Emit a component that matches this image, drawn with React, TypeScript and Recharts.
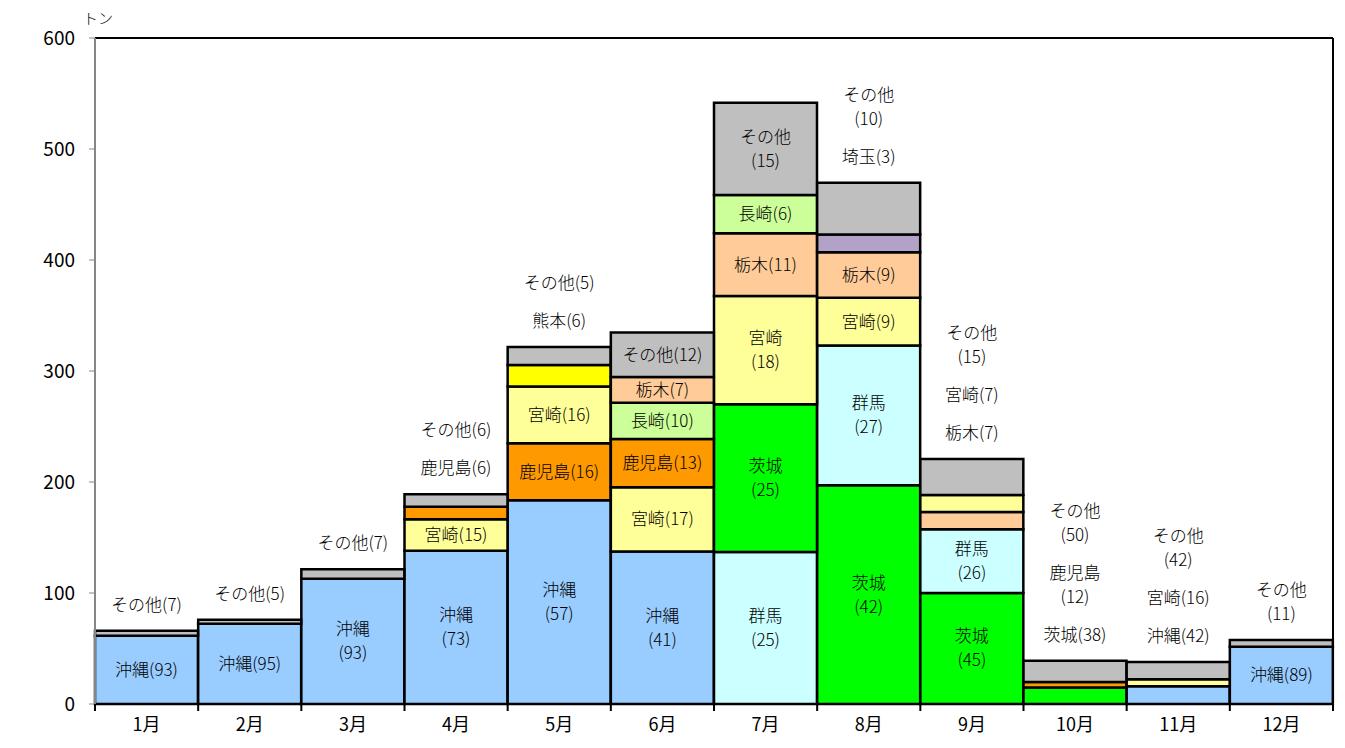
import { Bar, BarChart, Cell, LabelList, XAxis, YAxis } from "recharts";

const months = ["1月", "2月", "3月", "4月", "5月", "6月", "7月", "8月", "9月", "10月", "11月", "12月"];
const yTicks = [0, 100, 200, 300, 400, 500, 600];

// stack layers, bottom to top (その他 always on top)
const layer1Names = ["沖縄", "沖縄", "沖縄", "沖縄", "沖縄", "沖縄", "群馬", "茨城", "茨城", "茨城", "沖縄", "沖縄"];
const layer1Values = [61.4, 72.2, 112.8, 138, 183.5, 137.3, 137, 197, 100, 14.8, 15.9, 51.5];
const layer1Labels = ["沖縄(93)", "沖縄(95)", "沖縄\n(93)", "沖縄\n(73)", "沖縄\n(57)", "沖縄\n(41)", "群馬\n(25)", "茨城\n(42)", "茨城\n(45)", "", "", "沖縄(89)"];

const layer2Names = ["", "", "", "宮崎", "鹿児島", "宮崎", "茨城", "群馬", "群馬", "鹿児島", "宮崎", ""];
const layer2Values = [0, 0, 0, 28.4, 51.5, 58, 133, 126, 57.4, 5, 6.5, 0];
const layer2Labels = ["", "", "", "宮崎(15)", "鹿児島(16)", "宮崎(17)", "茨城\n(25)", "群馬\n(27)", "群馬\n(26)", "", "", ""];

const layer3Names = ["", "", "", "鹿児島", "宮崎", "鹿児島", "宮崎", "宮崎", "栃木", "", "", ""];
const layer3Values = [0, 0, 0, 11.3, 51, 43.5, 97.6, 43, 15.6, 0, 0, 0];
const layer3Labels = ["", "", "", "", "宮崎(16)", "鹿児島(13)", "宮崎\n(18)", "宮崎(9)", "", "", "", ""];

const layer4Names = ["", "", "", "", "熊本", "長崎", "栃木", "栃木", "宮崎", "", "", ""];
const layer4Values = [0, 0, 0, 0, 19.4, 32.5, 56.5, 41, 15.3, 0, 0, 0];
const layer4Labels = ["", "", "", "", "", "長崎(10)", "栃木(11)", "栃木(9)", "", "", "", ""];

const layer5Names = ["", "", "", "", "", "栃木", "長崎", "埼玉", "", "", "", ""];
const layer5Values = [0, 0, 0, 0, 0, 23.4, 34.5, 16, 0, 0, 0, 0];
const layer5Labels = ["", "", "", "", "", "栃木(7)", "長崎(6)", "", "", "", "", ""];

const otherValues = [4.6, 3.8, 8.5, 11.3, 16.3, 40, 83, 46.5, 32.4, 19.2, 15.4, 6.2];
const otherLabels = ["", "", "", "", "", "その他(12)", "その他\n(15)", "", "", "", "", ""];

// labels drawn above the bar, bottom to top
const outsideLabels = [
  ["その他(7)"],
  ["その他(5)"],
  ["その他(7)"],
  ["鹿児島(6)", "その他(6)"],
  ["熊本(6)", "その他(5)"],
  [],
  [],
  ["埼玉(3)", "その他\n(10)"],
  ["栃木(7)", "宮崎(7)", "その他\n(15)"],
  ["茨城(38)", "鹿児島\n(12)", "その他\n(50)"],
  ["沖縄(42)", "宮崎(16)", "その他\n(42)"],
  ["その他\n(11)"],
];

const COLORS: Record<string, string> = {
  沖縄: "#99CCFF",
  宮崎: "#FFFF99",
  鹿児島: "#FF9900",
  熊本: "#FFFF00",
  長崎: "#CCFF99",
  栃木: "#FFCC99",
  群馬: "#CCFFFF",
  茨城: "#00FF00",
  埼玉: "#B3A2C7",
  その他: "#BFBFBF",
};

const FONT = "'Noto Sans CJK JP', 'Noto Sans', sans-serif";
const CHART_W = 1337;
const CHART_H = 740;
const MARGIN = { top: 29, right: 11, left: 27, bottom: 14 };
const YAXIS_W = 60;
const BAND = (CHART_W - MARGIN.left - YAXIS_W - MARGIN.right - 1) / months.length;

const layers = [
  { key: "l1", names: layer1Names, values: layer1Values, labels: layer1Labels },
  { key: "l2", names: layer2Names, values: layer2Values, labels: layer2Labels },
  { key: "l3", names: layer3Names, values: layer3Values, labels: layer3Labels },
  { key: "l4", names: layer4Names, values: layer4Values, labels: layer4Labels },
  { key: "l5", names: layer5Names, values: layer5Values, labels: layer5Labels },
];

const chartData = months.map((m, i) => {
  const row: Record<string, string | number> = { month: m };
  layers.forEach((l) => {
    row[l.key] = l.values[i];
    row[l.key + "Label"] = l.labels[i];
  });
  row.other = otherValues[i];
  row.otherLabel = otherLabels[i];
  row.outside = outsideLabels[i].join("|");
  return row;
});

function InsideLabel(props: any) {
  const { x, y, width, height, value } = props;
  if (!value) return null;
  const lines = String(value).split("\n");
  const cx = x + width / 2;
  const cy = y + height / 2;
  return (
    <text textAnchor="middle" fontFamily={FONT} fontSize={17} fontWeight={300} fill="#000">
      {lines.map((t, i) => (
        <tspan key={i} x={cx} y={cy + (i - (lines.length - 1) / 2) * 24} dy="0.35em">
          {t}
        </tspan>
      ))}
    </text>
  );
}

function OutsideLabel(props: any) {
  const { x, y, width, value } = props;
  if (!value) return null;
  const cx = x + width / 2;
  let cur = y - 26;
  const out: { t: string; y: number }[] = [];
  String(value)
    .split("|")
    .forEach((item) => {
      const lines = item.split("\n");
      lines.forEach((t, i) => out.push({ t, y: cur - (lines.length - 1 - i) * 24 }));
      cur = cur - (lines.length - 1) * 24 - 38;
    });
  return (
    <text textAnchor="middle" fontFamily={FONT} fontSize={17} fontWeight={300} fill="#000">
      {out.map((o, i) => (
        <tspan key={i} x={cx} y={o.y} dy="0.35em">
          {o.t}
        </tspan>
      ))}
    </text>
  );
}

function MonthTick(props: any) {
  const { x, y, payload, index } = props;
  const last = index === months.length - 1;
  return (
    <g>
      <line x1={x - BAND / 2} x2={x - BAND / 2} y1={y} y2={y + 7} stroke="#000" strokeWidth={2} />
      {last && <line x1={x + BAND / 2} x2={x + BAND / 2} y1={y} y2={y + 7} stroke="#000" strokeWidth={2} />}
      <text x={x} y={y + 21} dy="0.35em" textAnchor="middle" fontFamily={FONT} fontSize={18} fill="#000">
        {payload.value}
      </text>
    </g>
  );
}

function UnitLabel(props: any) {
  const { viewBox } = props;
  return (
    <text x={viewBox.x + viewBox.width + 3} y={viewBox.y - 14} textAnchor="middle" fontFamily={FONT} fontSize={15} fontWeight={300} fill="#000">
      トン
    </text>
  );
}

export default function App() {
  return (
    <BarChart width={CHART_W} height={CHART_H} data={chartData} margin={MARGIN} barCategoryGap={0}>
      <XAxis
        dataKey="month"
        height={30}
        axisLine={{ stroke: "#000", strokeWidth: 2 }}
        tickLine={false}
        tickSize={0}
        tickMargin={0}
        interval={0}
        tick={<MonthTick />}
      />
      <XAxis xAxisId="top" orientation="top" height={1} tick={false} tickLine={false} axisLine={{ stroke: "#000", strokeWidth: 2 }} />
      <YAxis
        width={YAXIS_W}
        domain={[0, 600]}
        ticks={yTicks}
        interval={0}
        axisLine={{ stroke: "#868686", strokeWidth: 2 }}
        tickLine={{ stroke: "#868686" }}
        tickSize={6}
        tickMargin={14}
        tick={{ fill: "#000", fontSize: 19, fontFamily: FONT }}
        label={<UnitLabel />}
      />
      <YAxis yAxisId="right" orientation="right" width={1} tick={false} tickLine={false} axisLine={{ stroke: "#000", strokeWidth: 2 }} />
      {layers.map((l) => (
        <Bar key={l.key} dataKey={l.key} stackId="a" stroke="#000" strokeWidth={2.5} isAnimationActive={false}>
          {l.names.map((n, i) => (
            <Cell key={i} fill={COLORS[n] ?? "#fff"} />
          ))}
          <LabelList dataKey={l.key + "Label"} content={<InsideLabel />} />
        </Bar>
      ))}
      <Bar dataKey="other" stackId="a" fill={COLORS["その他"]} stroke="#000" strokeWidth={2.5} isAnimationActive={false}>
        <LabelList dataKey="otherLabel" content={<InsideLabel />} />
        <LabelList dataKey="outside" content={<OutsideLabel />} />
      </Bar>
    </BarChart>
  );
}
